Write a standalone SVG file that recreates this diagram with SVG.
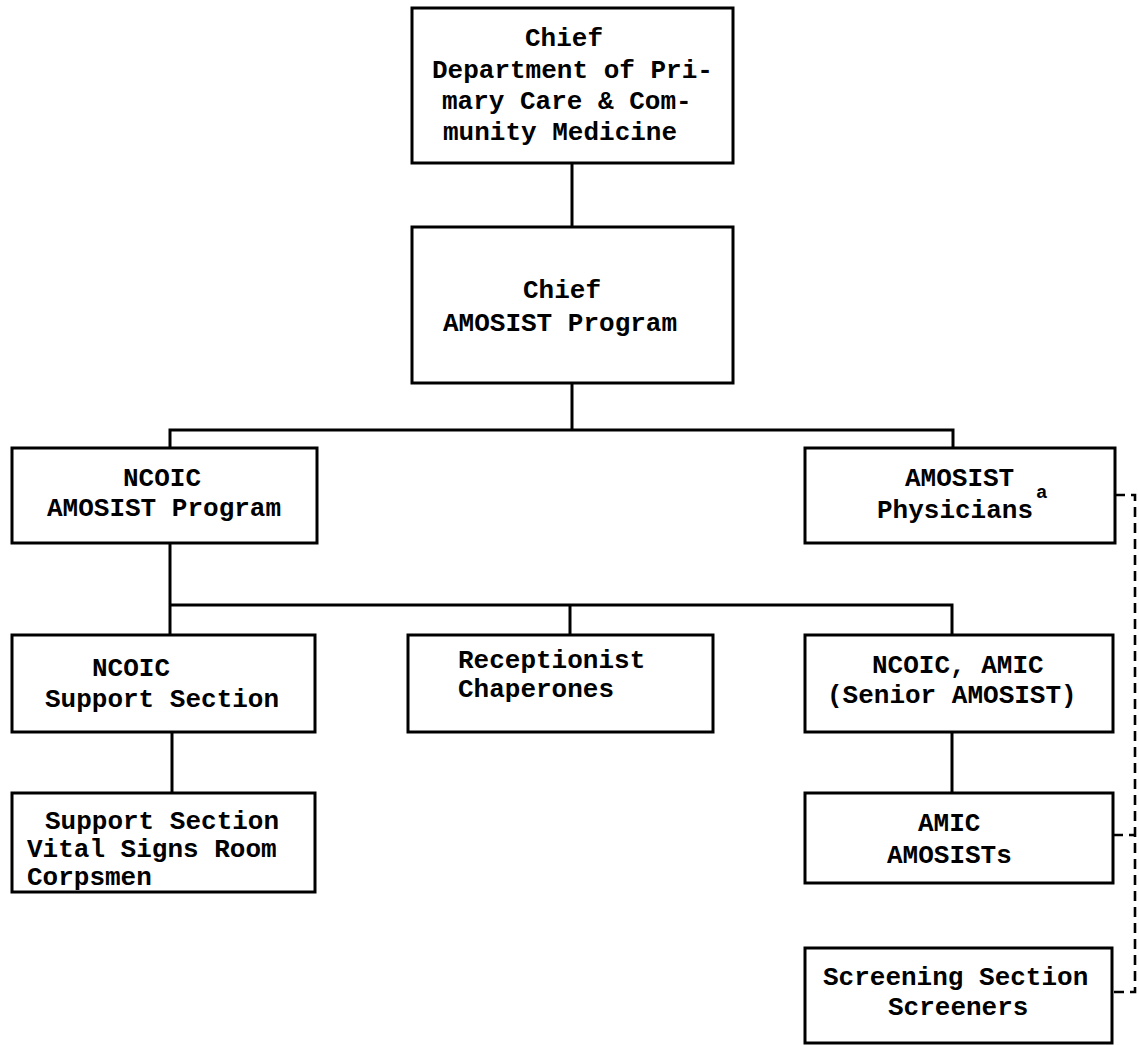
<svg xmlns="http://www.w3.org/2000/svg" width="1139" height="1045" viewBox="0 0 1139 1045">
  <style>
    .box { fill: #ffffff; stroke: #000000; stroke-width: 3; }
    .link { fill: none; stroke: #000000; stroke-width: 3; }
    .dash { fill: none; stroke: #000000; stroke-width: 2.6; stroke-dasharray: 10 6; }
    text { font-family: "Liberation Mono", "Courier New", monospace; font-size: 26px; font-weight: bold; fill: #000000; }
    .sup { font-size: 19px; }
  </style>
  <rect width="1139" height="1045" fill="#ffffff"/>

  <!-- connectors -->
  <g id="connectors">
    <path class="link" d="M572,163 V227"/>
    <path class="link" d="M572,383 V430"/>
    <path class="link" d="M170,448 V430 H953 V448"/>
    <path class="link" d="M170,543 V635"/>
    <path class="link" d="M170,605 H952 V635"/>
    <path class="link" d="M570,605 V635"/>
    <path class="link" d="M172,732 V793"/>
    <path class="link" d="M952,732 V793"/>
    <path class="dash" d="M1115,495 H1135 V992 H1112"/>
    <path class="dash" d="M1113,835 H1135"/>
  </g>

  <g id="chief-department">
    <rect class="box" x="412" y="8" width="321" height="155"/>
    <text x="525" y="46">Chief</text>
    <text x="432" y="78">Department of Pri-</text>
    <text x="442" y="109">mary Care &amp; Com-</text>
    <text x="443" y="140">munity Medicine</text>
  </g>

  <g id="chief-amosist">
    <rect class="box" x="412" y="227" width="321" height="156"/>
    <text x="523" y="298">Chief</text>
    <text x="443" y="331">AMOSIST Program</text>
  </g>

  <g id="ncoic-amosist">
    <rect class="box" x="12" y="448" width="305" height="95"/>
    <text x="123" y="486">NCOIC</text>
    <text x="47" y="516">AMOSIST Program</text>
  </g>

  <g id="amosist-physicians">
    <rect class="box" x="805" y="448" width="310" height="95"/>
    <text x="905" y="486">AMOSIST</text>
    <text x="877" y="518">Physicians<tspan class="sup" dx="3" dy="-20">a</tspan></text>
  </g>

  <g id="ncoic-support">
    <rect class="box" x="12" y="635" width="303" height="97"/>
    <text x="92" y="676">NCOIC</text>
    <text x="45" y="707">Support Section</text>
  </g>

  <g id="receptionist">
    <rect class="box" x="408" y="635" width="305" height="97"/>
    <text x="458" y="668">Receptionist</text>
    <text x="458" y="697">Chaperones</text>
  </g>

  <g id="ncoic-amic">
    <rect class="box" x="805" y="635" width="308" height="97"/>
    <text x="872" y="673">NCOIC, AMIC</text>
    <text x="827" y="703">(Senior AMOSIST)</text>
  </g>

  <g id="support-section">
    <rect class="box" x="12" y="793" width="303" height="99"/>
    <text x="45" y="829">Support Section</text>
    <text x="27" y="857">Vital Signs Room</text>
    <text x="27" y="885">Corpsmen</text>
  </g>

  <g id="amic-amosists">
    <rect class="box" x="805" y="793" width="308" height="90"/>
    <text x="918" y="831">AMIC</text>
    <text x="887" y="863">AMOSISTs</text>
  </g>

  <g id="screening">
    <rect class="box" x="805" y="948" width="307" height="95"/>
    <text x="823" y="985">Screening Section</text>
    <text x="888" y="1015">Screeners</text>
  </g>
</svg>
